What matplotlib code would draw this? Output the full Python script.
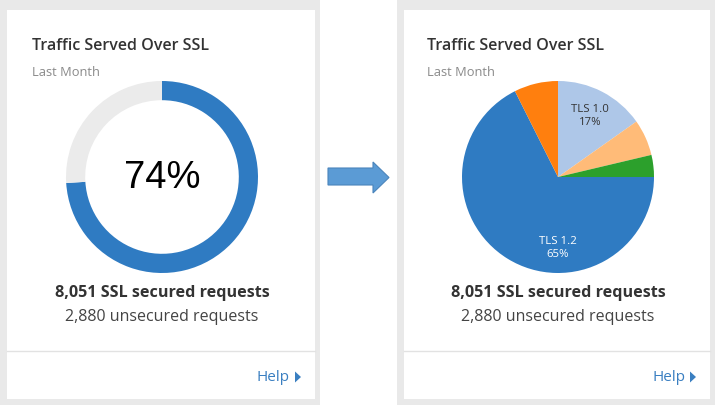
import numpy as np
import matplotlib
matplotlib.use("Agg")
import matplotlib.pyplot as plt
from matplotlib.patches import Rectangle, Polygon

# data
title = "Traffic Served Over SSL"
subtitle = "Last Month"
ssl_share = [74, 26]                      # secured / unsecured, percent
center_text = "74%"
secured_text = "8,051 SSL secured requests"
unsecured_text = "2,880 unsecured requests"

tls_names = ["TLS 1.0", "TLS 1.1", "SSL 3.0", "TLS 1.2", "Other"]
tls_share = [15.2, 6.1, 3.7, 67.6, 7.4]
tls_labels = ["TLS 1.0\n17%", "", "", "TLS 1.2\n65%", ""]
tls_colors = ["#aec7e8", "#ffbb78", "#2ca02c", "#2f7bc2", "#ff7f0e"]

BLUE = "#2f7bc2"
W, H = 715, 406

plt.rcParams['font.family'] = ['Open Sans', 'DejaVu Sans']
fig = plt.figure(figsize=(W / 100, H / 100), dpi=100)
fig.patch.set_facecolor("white")

# background axes in pixel coordinates (y down)
bg = fig.add_axes([0, 0, 1, 1])
bg.set_xlim(0, W)
bg.set_ylim(H, 0)
bg.axis("off")


def card(x0, x1, tx, cx):
    bg.add_patch(Rectangle((x0, 0), x1 - x0, H, color="#e9e9e9", lw=0))
    bg.add_patch(Rectangle((x0 + 7, 11), x1 - x0 - 12, 389, color="white", lw=0))
    bg.plot([x0 + 7, x1 - 5], [352, 352], color="#e2e2e2", lw=1)
    bg.text(tx, 46, title, fontsize=11.5, color="#333333",
            weight="semibold", va="center")
    bg.text(tx, 72, subtitle, fontsize=9.3, color="#8a8a8a", va="center")
    bg.text(cx, 293, secured_text, fontsize=11.6, color="#333333",
            weight="bold", ha="center", va="center")
    bg.text(cx, 317, unsecured_text, fontsize=11.5, color="#444444",
            ha="center", va="center")
    bg.text(x1 - 30, 378, "Help", fontsize=11, color="#3a7fc1",
            ha="right", va="center")
    # small caret after "Help"
    bg.add_patch(Polygon([(x1 - 25, 372.5), (x1 - 19, 378), (x1 - 25, 383.5)],
                         closed=True, color="#3a7fc1", lw=0))


card(0, 320, 32, 162)
card(397, 715, 427, 558)

# arrow between cards
bg.add_patch(Polygon([(328, 169), (373, 169), (373, 163), (389, 178.5),
                      (373, 194), (373, 186), (328, 186)],
                     closed=True, facecolor="#5b9bd5", edgecolor="#4a84bb", lw=0.8))

R = 96


def pie_axes(cx, cy):
    return fig.add_axes([(cx - R) / W, (H - cy - R) / H, 2 * R / W, 2 * R / H])


# donut
ax1 = pie_axes(162, 178)
ax1.pie(ssl_share, colors=[BLUE, "#ebebeb"], startangle=90, counterclock=False,
        wedgeprops=dict(width=0.2, linewidth=0))
ax1.set_xlim(-1, 1)
ax1.set_ylim(-1, 1)
ax1.set_aspect("equal")
ax1.axis("off")
ax1.text(0, 0.0, center_text, fontsize=27.5, family="Liberation Sans",
         ha="center", va="center", color="black")

# pie
ax2 = pie_axes(558, 178)
wedges, _ = ax2.pie(tls_share, colors=tls_colors, startangle=90, counterclock=False,
                    wedgeprops=dict(linewidth=0))
ax2.set_xlim(-1, 1)
ax2.set_ylim(-1, 1)
ax2.set_aspect("equal")
ax2.axis("off")
for w, lab, name in zip(wedges, tls_labels, tls_names):
    if not lab:
        continue
    if name == "TLS 1.2":
        ang = -90.0
        col = "white"
    else:
        ang = (w.theta1 + w.theta2) / 2
        col = "#333333"
    a = np.deg2rad(ang)
    ax2.text(0.73 * np.cos(a), 0.73 * np.sin(a), lab, fontsize=8.2, color=col,
             ha="center", va="center", linespacing=1.2)

fig.savefig("out.png", dpi=100)
